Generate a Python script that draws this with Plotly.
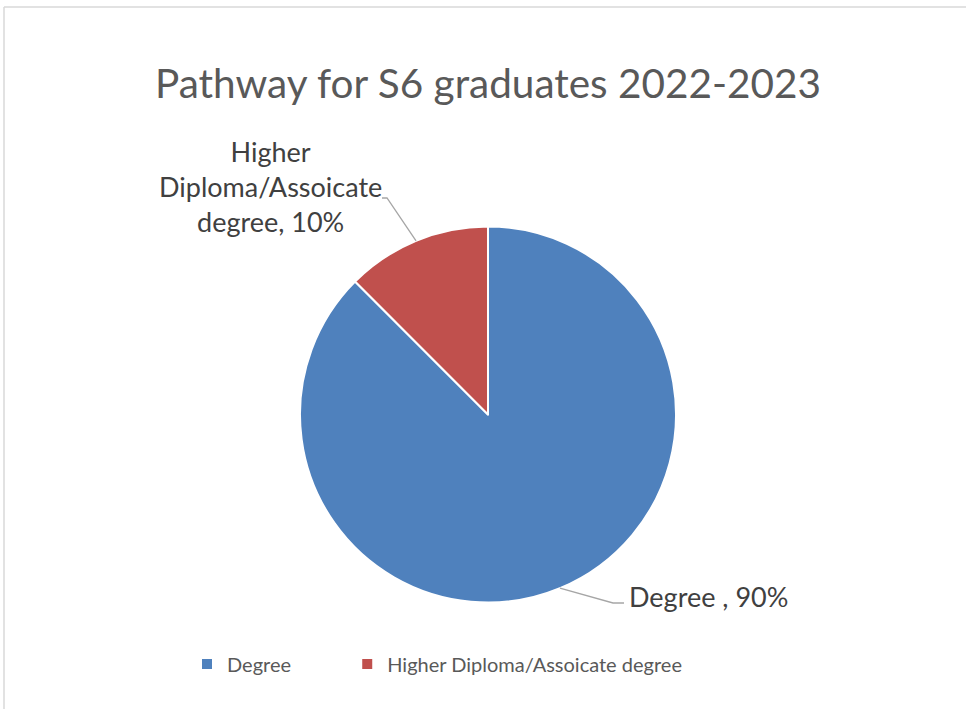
import math
import plotly.graph_objects as go

# ---- data ----
categories = ["Degree", "Higher Diploma/Assoicate degree"]
values = [87.5, 12.5]          # slice sizes as drawn
label_pct = ["90%", "10%"]     # percentages printed on the labels
colors = ["#4F81BD", "#C0504D"]
title_text = "Pathway for S6 graduates 2022-2023"

W, H = 966, 709
FONT = "Lato"

# pie placement (pixels)
cx, cy, r = 488, 414.5, 188


def px(x):
    return x / W


def py(y):
    return 1 - y / H


# legend names: pad the first entry so the second entry sits further right
legend_names = [categories[0] + "\u00a0" * 10, categories[1]]

fig = go.Figure()
fig.add_trace(go.Pie(
    labels=legend_names,
    values=values,
    customdata=categories,
    sort=False,
    direction="clockwise",
    rotation=0,
    marker=dict(colors=colors, line=dict(color="white", width=2)),
    textinfo="none",
    hovertemplate="%{customdata}: %{value}<extra></extra>",
    domain=dict(x=[px(cx - r), px(cx + r)], y=[py(cy + r), py(cy - r)]),
))

# mid angles of slices (clockwise from 12 o'clock), derived from the data
total = sum(values)
mids = []
acc = 0
for v in values:
    mids.append((acc + v / 2) / total * 2 * math.pi)
    acc += v


def edge_point(theta):
    return cx + r * math.sin(theta), cy - r * math.cos(theta)


shapes = []
annotations = []
LBL = dict(family=FONT, size=27, color="#404040")

# Degree label (right, bottom)
sx, sy = edge_point(mids[0])
elbow = (613, 603)
end = (624, 603)
shapes.append(dict(type="path", xref="paper", yref="paper",
                   path=f"M{px(sx)},{py(sy)} L{px(elbow[0])},{py(elbow[1])} L{px(end[0])},{py(end[1])}",
                   line=dict(color="#A6A6A6", width=1.3)))
annotations.append(dict(xref="paper", yref="paper", x=px(627), y=py(596),
                        xanchor="left", yanchor="middle", showarrow=False,
                        text=f"{categories[0]} , {label_pct[0]}", font=LBL))

# Higher Diploma label (left, top)
sx, sy = edge_point(mids[1])
elbow = (387, 198)
end = (382, 198)
shapes.append(dict(type="path", xref="paper", yref="paper",
                   path=f"M{px(sx)},{py(sy)} L{px(elbow[0])},{py(elbow[1])} L{px(end[0])},{py(end[1])}",
                   line=dict(color="#A6A6A6", width=1.3)))
annotations.append(dict(xref="paper", yref="paper", x=px(270), y=py(186),
                        xanchor="center", yanchor="middle", align="center", showarrow=False,
                        text="Higher<br>Diploma/Assoicate<br>degree, " + label_pct[1], font=LBL))

# outer chart border (top and left visible)
shapes.append(dict(type="line", xref="paper", yref="paper",
                   x0=px(4), y0=py(7), x1=px(W + 5), y1=py(7),
                   line=dict(color="#D9D9D9", width=1.5)))
shapes.append(dict(type="line", xref="paper", yref="paper",
                   x0=px(4), y0=py(7), x1=px(4), y1=py(H + 5),
                   line=dict(color="#D9D9D9", width=1.5)))

fig.update_layout(
    width=W, height=H,
    margin=dict(l=0, r=0, t=0, b=0),
    paper_bgcolor="white",
    plot_bgcolor="white",
    title=dict(text=title_text, x=px(488), xanchor="center",
               y=py(84), yanchor="middle",
               font=dict(family=FONT, size=40.5, color="#595959")),
    showlegend=True,
    legend=dict(orientation="h", x=px(187), y=py(664), xanchor="left", yanchor="middle",
                font=dict(family=FONT, size=20, color="#595959"),
                bgcolor="rgba(0,0,0,0)"),
    shapes=shapes,
    annotations=annotations,
)

fig.write_html("out.html", config={"displayModeBar": False},
               post_script="document.body.style.margin='0';")
